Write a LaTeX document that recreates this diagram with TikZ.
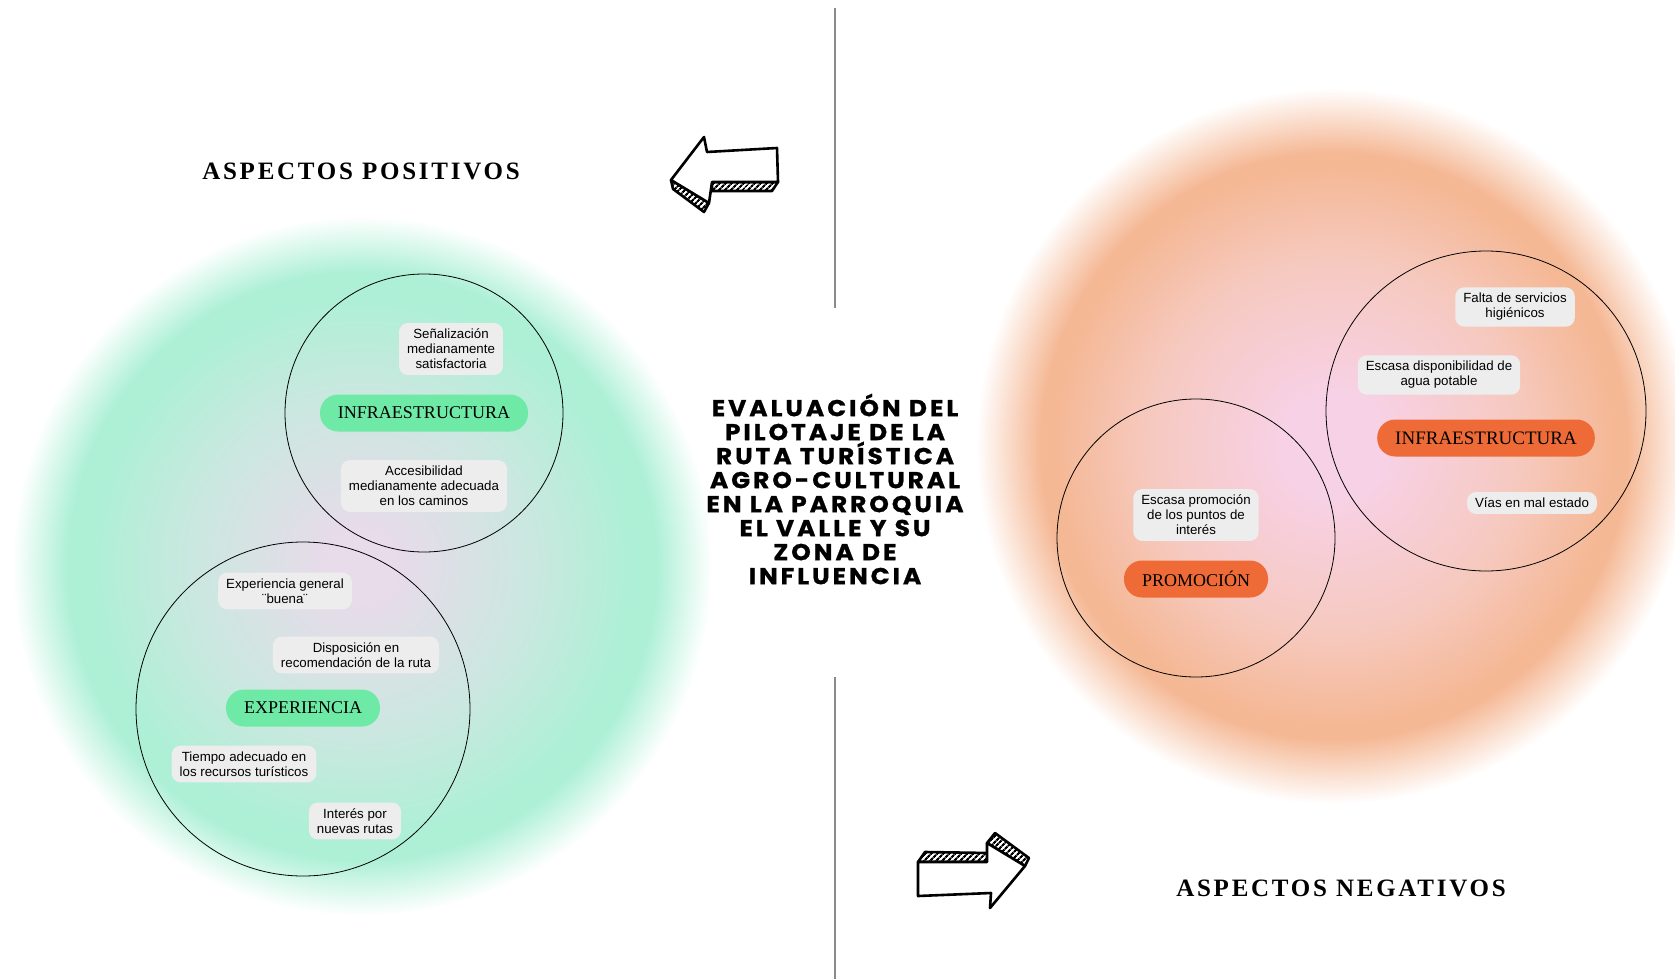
\documentclass[tikz,border=0pt]{standalone}
\usepackage{fontspec}
\setmainfont{Liberation Sans}
\newfontfamily\headfont{Liberation Serif}[LetterSpace=11]
\newfontfamily\pillfont{Liberation Serif}
\newfontfamily\titlefont{Poppins}[FakeStretch=1.08, LetterSpace=13, FakeBold=1]
\usetikzlibrary{
    positioning,
    backgrounds,
    patterns.meta
    }

\definecolor{mint}{HTML}{ADF0D6}
\definecolor{mintmid}{HTML}{C9E8DF}
\definecolor{lilac}{HTML}{E8DBEA}
\definecolor{peach}{HTML}{F5B895}
\definecolor{peachmid}{HTML}{F6C9BF}
\definecolor{blush}{HTML}{F7D1E6}
\definecolor{pillgreen}{HTML}{6FE9A6}
\definecolor{pillorange}{HTML}{EE6B37}
\definecolor{bubblegray}{HTML}{EDEDED}
\definecolor{divider}{HTML}{8A8A8A}

\pgfdeclareradialshading{glow pos}{\pgfpoint{0bp}{0bp}}{color(0bp)=(lilac); color(2.5bp)=(lilac); color(12.5bp)=(mintmid); color(19.5bp)=(mint); color(21bp)=(mint); color(25bp)=(white); color(50bp)=(white)}
\pgfdeclareradialshading{glow neg}{\pgfpoint{0bp}{0bp}}{color(0bp)=(blush); color(3.5bp)=(blush); color(13bp)=(peachmid); color(19.5bp)=(peach); color(20.5bp)=(peach); color(25bp)=(white); color(50bp)=(white)}

\begin{document}
\begin{tikzpicture}[x=1pt, y=-1pt]
\tikzset{ring/.style =
        {
            shape=circle,
            draw=black,
            line width=0.8pt,
            inner sep=0pt
        }
}

\tikzset{bubble/.style =
        {
            fill=bubblegray,
            rounded corners=9pt,
            align=center,
            inner xsep=8pt,
            inner ysep=6pt,
            font=\fontsize{13.3}{15}\selectfont
        }
}

\tikzset{pill/.style =
        {
            rounded corners=18pt,
            minimum height=37pt,
            inner xsep=18pt,
            inner ysep=0pt,
            font=\pillfont\fontsize{18}{18}\selectfont
        }
}

\tikzset{pos pill/.style = { pill, fill=pillgreen } }
\tikzset{neg pill/.style = { pill, fill=pillorange } }

\tikzset{heading/.style = { font=\headfont\bfseries\fontsize{25}{28}\selectfont } }

\tikzset{divline/.style = { draw=divider, line width=1.2pt } }

\tikzset{sketch/.style =
        {
            draw=black,
            line width=2.6pt,
            line join=round,
            fill=white
        }
}

\tikzset{hatch/.style =
        {
            sketch,
            pattern={Lines[angle=45, distance=4pt, line width=2.2pt]},
            pattern color=black
        }
}

		\useasboundingbox (0,0) rectangle (1675,979);

		\begin{scope}[on background layer]
			\shade[shading=glow pos] (362,566) circle [radius=350pt];
			\shade[shading=glow neg] (1334,446) circle [radius=358pt];
		\end{scope}

		\coordinate (div-top) at (835,8);
		\coordinate (div-gap1) at (835,308);
		\coordinate (div-gap2) at (835,677);
		\coordinate (div-bot) at (835,979);
		\draw[divline] (div-top) -- (div-gap1);
		\draw[divline] (div-gap2) -- (div-bot);

		\node[align=center, font=\titlefont\bfseries\fontsize{23}{24}\selectfont] (title) at (835,489)
		{EVALUACIÓN DEL\\PILOTAJE DE LA\\RUTA TURÍSTICA\\AGRO-CULTURAL\\EN LA PARROQUIA\\EL VALLE Y SU\\ZONA DE\\INFLUENCIA};

		\node[heading] (head-pos) at (361,171) {ASPECTOS POSITIVOS};
		\node[heading] (head-neg) at (1341,888) {ASPECTOS NEGATIVOS};

		\foreach \name / \x / \y / \d in
			{infrapos/424/413/278,
				exp/303/709/334,
				infraneg/1486/411/320,
				promo/1196/538/278}
		\node[ring, minimum size=\d pt] (ring-\name) at (\x,\y) {};

		\node[pos pill] (pill-infrapos) at (ring-infrapos.center) {INFRAESTRUCTURA};
		\node[pos pill] (pill-exp) at (303,708) {EXPERIENCIA};
		\node[neg pill, font=\pillfont\fontsize{19}{19}\selectfont] (pill-infraneg) at (1486,438) {INFRAESTRUCTURA};
		\node[neg pill] (pill-promo) at (1196,579) {PROMOCIÓN};

		\foreach \name / \x / \y / \txt in
			{senal/451/349/{Señalización\\medianamente\\satisfactoria},
				acces/424/486/{Accesibilidad\\medianamente adecuada\\en los caminos},
				general/285/591/{Experiencia general\\¨buena¨},
				dispo/356/655/{Disposición en\\recomendación de la ruta},
				tiempo/244/764/{Tiempo adecuado en\\los recursos turísticos},
				interes/355/821/{Interés por\\nuevas rutas},
				falta/1515/307/{Falta de servicios\\higiénicos},
				agua/1439/375/{Escasa disponibilidad de\\agua potable},
				vias/1532/503/{Vías en mal estado},
				difusion/1196/515/{Escasa promoción\\de los puntos de\\interés}}
		\node[bubble] (bub-\name) at (\x,\y) {\txt};

		% flecha izquierda
		\draw[hatch] (712,182) -- (778,182) -- (772,191) -- (712,191) -- cycle;
		\draw[hatch] (671,180) -- (709,203) -- (704,212) -- (673,189) -- cycle;
		\draw[sketch] (671,180) -- (704,137) -- (707,152) -- (777,148) -- (778,182) -- (712,182) -- (709,203) -- cycle;

		% flecha derecha
		\draw[hatch] (918,862) -- (925,852) -- (989,853) -- (987,862) -- cycle;
		\draw[hatch] (987,843) -- (995,833) -- (1029,858) -- (1025,866) -- cycle;
		\draw[sketch] (918,862) -- (987,862) -- (987,843) -- (1025,866) -- (990,908) -- (991,893) -- (918,896) -- cycle;

	\end{tikzpicture}
\end{document}
